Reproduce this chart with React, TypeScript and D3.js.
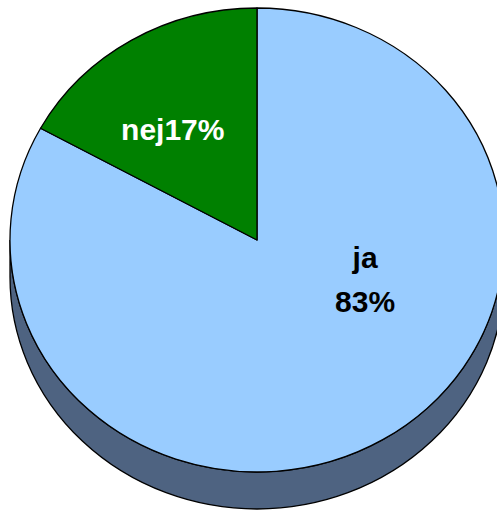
import React from "react";
import * as d3 from "d3";

const categories = ["ja", "nej"];
const values = [83, 17];
const labelTexts = [["ja", "83%"], ["nej17%"]];
const colors = ["#99CCFF", "#008000"];
const textColors = ["#000000", "#FFFFFF"];

const W = 497;
const H = 511;
const cx = 257;
const cy = 240;
const rx = 247;
const ry = 232;
const depth = 37;
const sideColor = "#4E6381";

// label placement factors (fraction of radius along the mid-angle)
const labelFactors = [
  { kx: 0.86, ky: 0.2 },
  { kx: 0.67, ky: 0.55 },
];

function pt(a: number, dy = 0): [number, number] {
  return [cx + rx * Math.sin(a), cy + dy - ry * Math.cos(a)];
}

export default function App() {
  const pie = d3.pie<number>().sort(null).startAngle(0).endAngle(2 * Math.PI);
  const arcs = pie(values);

  const side = `M${cx - rx},${cy} A${rx},${ry} 0 0 0 ${cx + rx},${cy} L${cx + rx},${cy + depth} A${rx},${ry} 0 0 1 ${cx - rx},${cy + depth} Z`;

  return (
    <svg
      width={W}
      height={H}
      style={{ position: "absolute", left: 0, top: 0, background: "#fff" }}
      fontFamily="'Liberation Sans', Arial, sans-serif"
    >
      <path d={side} fill={sideColor} stroke="#000" strokeWidth={1.3} />
      {arcs.map((a, i) => {
        const [x0, y0] = pt(a.startAngle);
        const [x1, y1] = pt(a.endAngle);
        const large = a.endAngle - a.startAngle > Math.PI ? 1 : 0;
        const d = `M${cx},${cy} L${x0},${y0} A${rx},${ry} 0 ${large} 1 ${x1},${y1} Z`;
        return <path key={categories[i]} d={d} fill={colors[i]} stroke="#000" strokeWidth={1.3} strokeLinejoin="round" />;
      })}
      {arcs.map((a, i) => {
        const mid = (a.startAngle + a.endAngle) / 2;
        const f = labelFactors[i];
        const x = cx + rx * f.kx * Math.sin(mid);
        const y = cy - ry * f.ky * Math.cos(mid);
        const lines = labelTexts[i];
        const lh = 44;
        const y0 = y - ((lines.length - 1) * lh) / 2;
        return (
          <text
            key={"t" + i}
            x={x}
            textAnchor="middle"
            fontSize={30}
            fontWeight="bold"
            fill={textColors[i]}
          >
            {lines.map((l, j) => (
              <tspan key={j} x={x} y={y0 + j * lh + 10}>
                {l}
              </tspan>
            ))}
          </text>
        );
      })}
    </svg>
  );
}
